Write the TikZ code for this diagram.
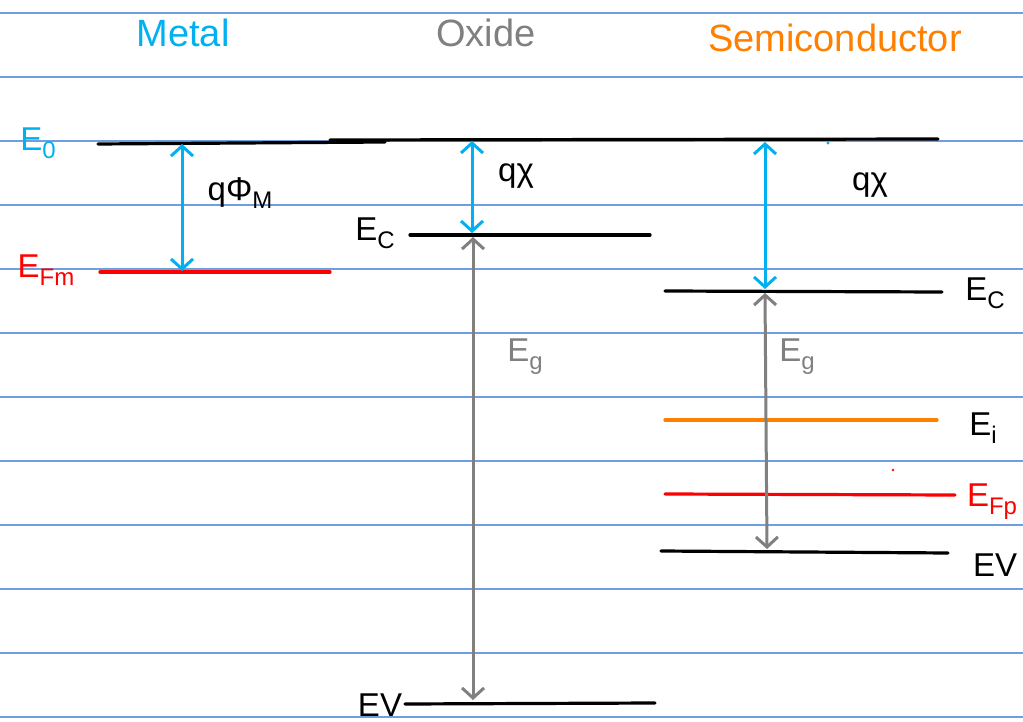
\documentclass[tikz,border=0pt]{standalone}
\usepackage{fontspec}
\setmainfont{Liberation Sans}
\usetikzlibrary{arrows.meta}
\definecolor{rule}{RGB}{110,160,225}
\definecolor{cy}{RGB}{0,176,240}
\definecolor{org}{RGB}{255,128,0}
\definecolor{rd}{RGB}{255,0,0}
\definecolor{gr}{RGB}{128,128,128}
\newcommand{\sbs}[1]{\raisebox{-0.25em}{\fontsize{24}{28}\selectfont #1}}
\tikzset{
  ruled/.style={rule,line width=1.4pt},
  level/.style={line width=3.2pt,line cap=round},
  barrow/.style={line width=3pt,{Straight Barb[length=10pt,width=22pt]}-{Straight Barb[length=10pt,width=22pt]}},
  head/.style={font=\fontsize{38}{44}\selectfont},
  lab/.style={font=\fontsize{33}{38}\selectfont,inner sep=0pt},
}
\begin{document}
\begin{tikzpicture}[x=1pt,y=-1pt]
\useasboundingbox (0,0) rectangle (1023,722);
\fill[white] (0,0) rectangle (1023,722);
% ruled paper
\foreach \yy in {13,77,141,205,269,333,397,461,525,589,653,717}
  \draw[ruled] (0,\yy) -- (1023,\yy);
% headings
\node[head,cy] (hm) at (183,33) {Metal};
\node[head,gr] (ho) at (486,33) {Oxide};
\node[head,org] (hs) at (835,38) {Semiconductor};
% vacuum level
\coordinate (e0a) at (98,144); \coordinate (e0b) at (385,142);
\coordinate (e0c) at (330,140); \coordinate (e0d) at (938,139);
\draw[level] (e0a) -- (e0b);
\draw[level] (e0c) -- (e0d);
\node[lab,cy] (le0) at (38,143) {E\sbs{0}};
% metal
\coordinate (efa) at (100,272); \coordinate (efb) at (330,272);
\draw[level,rd] (efa) -- (efb);
\node[lab,rd] (lefm) at (46,270) {E\sbs{Fm}};
\coordinate (ma) at (182,144); \coordinate (mb) at (182,271);
\draw[barrow,cy] (ma) -- (mb);
\node[lab] (lphi) at (240,193) {qΦ\sbs{M}};
% oxide
\coordinate (oca) at (410,235); \coordinate (ocb) at (650,235);
\draw[level] (oca) -- (ocb);
\node[lab] (loc) at (375,233) {E\sbs{C}};
\coordinate (ova) at (405,704); \coordinate (ovb) at (655,703);
\draw[level] (ova) -- (ovb);
\node[lab] (lov) at (380,705) {EV};
\coordinate (oxa) at (472,141); \coordinate (oxb) at (472,233);
\draw[barrow,cy] (oxa) -- (oxb);
\node[lab] (lox) at (516,176) {qχ};
\coordinate (oga) at (473,237); \coordinate (ogb) at (473,700);
\draw[barrow,gr] (oga) -- (ogb);
\node[lab,gr] (log) at (525,357) {E\sbs{g}};
% semiconductor
\coordinate (sca) at (665,291); \coordinate (scb) at (942,292);
\draw[level] (sca) -- (scb);
\node[lab] (lsc) at (985,293) {E\sbs{C}};
\coordinate (sia) at (665,420); \coordinate (sib) at (937,420);
\draw[level,org] (sia) -- (sib);
\node[lab] (lsi) at (983,428) {E\sbs{i}};
\coordinate (sfa) at (665,494); \coordinate (sfb) at (955,495);
\draw[level,rd] (sfa) -- (sfb);
\node[lab,rd] (lsf) at (992,502) {E\sbs{Fp}};
\coordinate (sva) at (661,551); \coordinate (svb) at (948,553);
\draw[level] (sva) -- (svb);
\node[lab] (lsv) at (995,565) {EV};
\coordinate (sxa) at (765,142); \coordinate (sxb) at (765,289);
\draw[barrow,cy] (sxa) -- (sxb);
\node[lab] (lsx) at (870,185) {qχ};
\coordinate (sga) at (765,293); \coordinate (sgb) at (767,549);
\draw[barrow,gr] (sga) -- (sgb);
\node[lab,gr] (lsg) at (797,357) {E\sbs{g}};
% stray dots
\fill[cy] (828,143) circle (1.6);
\fill[rd] (893,470) circle (1.4);
\end{tikzpicture}
\end{document}
